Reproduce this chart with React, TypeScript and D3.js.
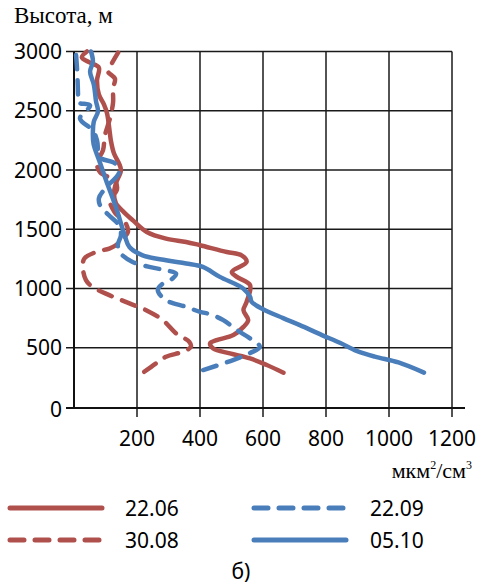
import React from "react";
import * as d3 from "d3";

// [value (мкм²/см³), height (м)]
const s2206: [number, number][] = [
  [665, 289], [612, 354], [559, 410], [495, 452], [442, 494], [432, 537], [453, 564], [506, 607],
  [538, 676], [553, 733], [538, 817], [548, 887], [559, 1028], [517, 1098], [501, 1140],
  [548, 1224], [532, 1280], [485, 1308], [400, 1365], [356, 1393], [292, 1421], [231, 1477],
  [187, 1575], [159, 1643], [133, 1719], [127, 1803], [133, 1887], [149, 1997], [143, 2055],
  [127, 2139], [117, 2249], [114, 2308], [105, 2477], [95, 2553], [79, 2637], [73, 2755],
  [79, 2864], [51, 2906], [25, 2950], [41, 3000],
];
const s3008: [number, number][] = [
  [223, 297], [260, 368], [292, 424], [345, 466], [371, 508], [366, 550], [324, 621], [282, 733],
  [229, 817], [176, 874], [112, 944], [59, 1013], [38, 1070], [28, 1182], [33, 1253], [70, 1308],
  [112, 1337], [133, 1365], [149, 1407], [171, 1475], [162, 1560], [130, 1640], [114, 1745],
  [136, 1830], [130, 1910], [83, 1980], [73, 2065], [92, 2165], [98, 2290], [114, 2435],
  [124, 2570], [124, 2690], [130, 2770], [108, 2830], [114, 2870], [140, 2990],
];
const s2209: [number, number][] = [
  [410, 312], [505, 396], [559, 455], [590, 508], [559, 579], [517, 649], [474, 733], [432, 783],
  [400, 803], [356, 845], [292, 901], [266, 986], [282, 1042], [313, 1084], [324, 1126],
  [292, 1154], [239, 1182], [186, 1224], [149, 1294], [139, 1365], [149, 1449], [143, 1533],
  [111, 1618], [86, 1685], [79, 1760], [102, 1853], [143, 1980], [130, 2056], [83, 2106],
  [73, 2250], [60, 2334], [19, 2435], [51, 2544], [13, 2570], [13, 2612], [10, 2839], [6, 2990],
];
const s0510: [number, number][] = [
  [1111, 290], [1030, 376], [955, 425], [897, 474], [844, 542], [787, 607], [717, 691], [664, 750],
  [600, 825], [564, 887], [559, 929], [537, 1000], [463, 1098], [409, 1182], [356, 1211],
  [292, 1238], [218, 1280], [176, 1350], [162, 1440], [133, 1687], [102, 1912], [80, 2080],
  [62, 2221], [60, 2325], [63, 2409], [76, 2494], [70, 2578], [63, 2720], [51, 2830],
  [60, 2915], [54, 3000],
];

const xTicks = [200, 400, 600, 800, 1000, 1200];
const yTicks = [0, 500, 1000, 1500, 2000, 2500, 3000];

const RED = "#B0504D";
const BLUE = "#4A7EBB";

const series = [
  { name: "22.06", data: s2206, color: RED, dash: "" },
  { name: "30.08", data: s3008, color: RED, dash: "14 11" },
  { name: "22.09", data: s2209, color: BLUE, dash: "14 11" },
  { name: "05.10", data: s0510, color: BLUE, dash: "" },
];

const NUM_FONT = "'Noto Sans', sans-serif";
const SERIF = "'Liberation Serif', serif";

export default function App() {
  const x = d3.scaleLinear().domain([0, 1200]).range([74, 452]);
  const y = d3.scaleLinear().domain([0, 3000]).range([407, 51.5]);
  const line = d3
    .line<[number, number]>()
    .x((d) => x(d[0]))
    .y((d) => y(d[1]))
    .curve(d3.curveCatmullRom.alpha(0.5));

  const legend = [
    { s: series[0], lx: 10, ly: 508, tx: 125 },
    { s: series[2], lx: 254, ly: 508, tx: 370 },
    { s: series[1], lx: 10, ly: 540, tx: 125 },
    { s: series[3], lx: 254, ly: 540, tx: 370 },
  ];

  return (
    <svg
      width={480}
      height={587}
      style={{ position: "absolute", left: 0, top: 0, background: "#fff" }}
    >
      <text x={14} y={23} fontFamily={SERIF} fontSize={23} fill="#000">
        Высота, м
      </text>
      {/* grid */}
      {yTicks.slice(1).map((t) => (
        <line key={"gy" + t} x1={66} x2={x(1200)} y1={y(t)} y2={y(t)} stroke="#1a1a1a" strokeWidth={1.5} />
      ))}
      {xTicks.map((t) => (
        <line key={"gx" + t} x1={x(t)} x2={x(t)} y1={y(3000)} y2={y(0) + 10} stroke="#1a1a1a" strokeWidth={1.5} />
      ))}
      <line x1={x(0)} x2={x(0)} y1={y(3000)} y2={y(0) + 2} stroke="#111" strokeWidth={2} />
      <line x1={66} x2={x(0)} y1={y(0) + 1} y2={y(0) + 1} stroke="#111" strokeWidth={2} />
      <line x1={x(0)} x2={465} y1={y(0) + 1} y2={y(0) + 1} stroke="#111" strokeWidth={2} />
      {/* y labels */}
      {yTicks.map((t) => (
        <text key={"ly" + t} x={62} y={y(t) + 7.5 + (t === 0 ? 2 : 0)} textAnchor="end" fontFamily={NUM_FONT} fontSize={21} fill="#000">
          {t}
        </text>
      ))}
      {xTicks.map((t) => (
        <text key={"lx" + t} x={x(t)} y={446} textAnchor="middle" fontFamily={NUM_FONT} fontSize={21} fill="#000">
          {t}
        </text>
      ))}
      <text x={472} y={478} textAnchor="end" fontFamily={SERIF} fontSize={22} fill="#000">
        мкм<tspan fontSize={12} dy={-9}>2</tspan>
        <tspan dy={9}>/см</tspan>
        <tspan fontSize={12} dy={-9}>3</tspan>
      </text>
      {/* series */}
      {series.map((s) => (
        <path
          key={s.name}
          d={line(s.data) || ""}
          fill="none"
          stroke={s.color}
          strokeWidth={4.5}
          strokeDasharray={s.dash || undefined}
          strokeLinecap="round"
          strokeLinejoin="round"
        />
      ))}
      {/* legend */}
      {legend.map(({ s, lx, ly, tx }) => (
        <g key={"lg" + s.name}>
          <line
            x1={lx}
            x2={lx + (s.dash ? 90 : 92)}
            y1={ly}
            y2={ly}
            stroke={s.color}
            strokeWidth={5}
            strokeLinecap="round"
            strokeDasharray={s.dash ? "14 11" : undefined}
          />
          <text x={tx} y={ly + 7.5} fontFamily={NUM_FONT} fontSize={21} fill="#000">
            {s.name}
          </text>
        </g>
      ))}
      <text x={241} y={579} textAnchor="middle" fontFamily={NUM_FONT} fontSize={21} fill="#000">
        б)
      </text>
    </svg>
  );
}
